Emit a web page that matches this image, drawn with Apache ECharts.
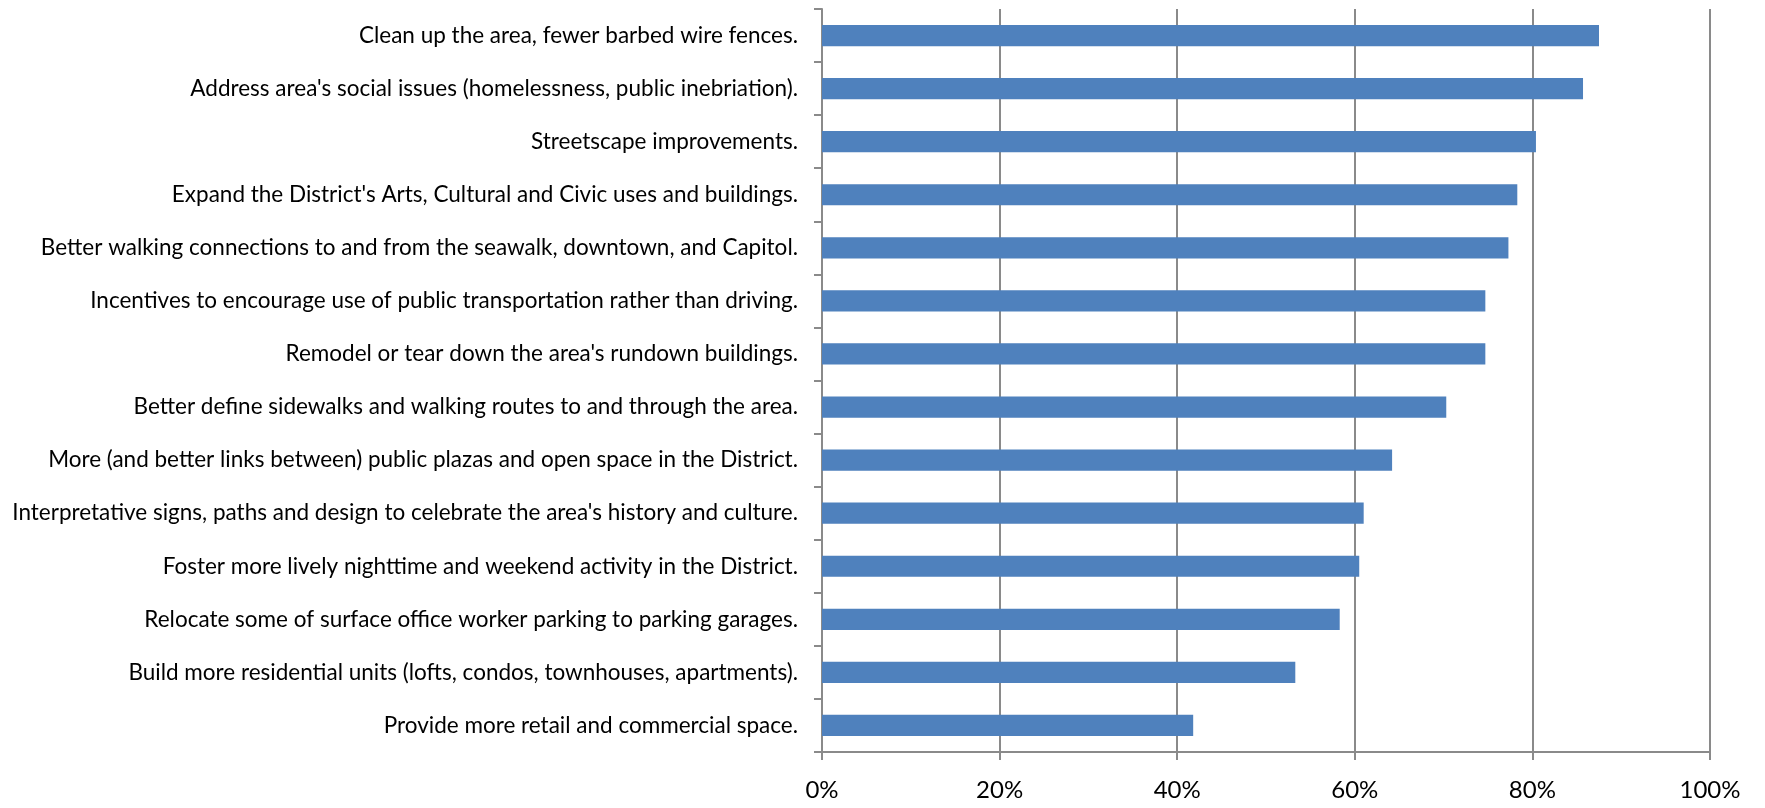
<!DOCTYPE html>
<html>
<head>
<meta charset="utf-8">
<script src="https://cdn.jsdelivr.net/npm/echarts@6/dist/echarts.min.js"></script>
<style>
  html, body { margin: 0; padding: 0; background: #fff; }
  #main { width: 1765px; height: 808px; }
</style>
</head>
<body>
<div id="main"></div>
<script>
  // categories, top to bottom
  var categories = [
    "Clean up the area, fewer barbed wire fences.",
    "Address area's social issues (homelessness, public inebriation).",
    "Streetscape improvements.",
    "Expand the District's Arts, Cultural and Civic uses and buildings.",
    "Better walking connections to and from the seawalk, downtown, and Capitol.",
    "Incentives to encourage use of public transportation rather than driving.",
    "Remodel or tear down the area's rundown buildings.",
    "Better define sidewalks and walking routes to and through the area.",
    "More (and better links between) public plazas and open space in the District.",
    "Interpretative signs, paths and design to celebrate the area's history and culture.",
    "Foster more lively nighttime and weekend activity in the District.",
    "Relocate some of surface office worker parking to parking garages.",
    "Build more residential units (lofts, condos, townhouses, apartments).",
    "Provide more retail and commercial space."
  ];
  // share of respondents, in %
  var values = [87.5, 85.7, 80.4, 78.3, 77.3, 74.7, 74.7, 70.3, 64.2, 61.0, 60.5, 58.3, 53.3, 41.8];
  var xTicks = [0, 20, 40, 60, 80, 100];

  var myChart = echarts.init(document.getElementById('main'));
  var grey = '#8a8a8a';
  var font = 'Lato';

  var option = {
    animation: false,
    grid: { left: 822, right: 55, top: 9, bottom: 56 },
    xAxis: {
      type: 'value',
      min: xTicks[0],
      max: xTicks[xTicks.length - 1],
      interval: xTicks[1] - xTicks[0],
      axisLine: { show: true, lineStyle: { color: grey, width: 2 } },
      axisTick: { show: true, length: 8, lineStyle: { color: grey, width: 2 } },
      splitLine: { show: true, lineStyle: { color: grey, width: 2 } },
      axisLabel: {
        margin: 26,
        color: '#000',
        fontFamily: font,
        fontSize: 24,
        formatter: function (v) { return v + '%'; }
      }
    },
    yAxis: {
      type: 'category',
      inverse: true,
      data: categories,
      axisLine: { show: true, lineStyle: { color: grey, width: 2 } },
      axisTick: { show: true, length: 8, lineStyle: { color: grey, width: 2 } },
      axisLabel: {
        margin: 24,
        color: '#000',
        fontFamily: font,
        fontSize: 22.5
      }
    },
    series: [
      {
        type: 'bar',
        data: values,
        barCategoryGap: '60%',
        itemStyle: { color: '#4f81bd' }
      }
    ]
  };
  myChart.setOption(option);
  window.addEventListener("resize", function () {
    myChart.resize();
  });
</script>
</body>
</html>
